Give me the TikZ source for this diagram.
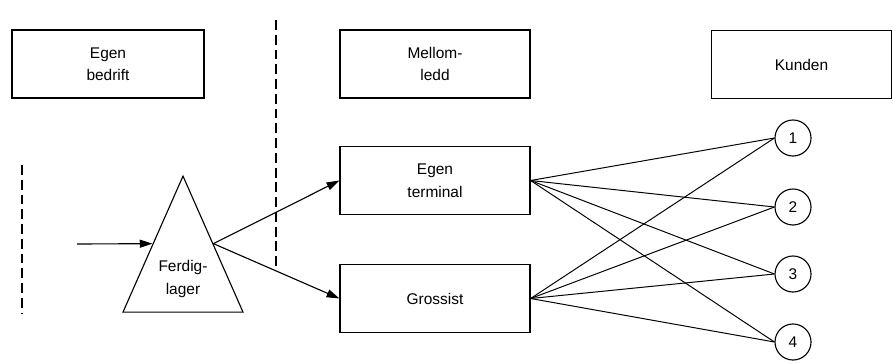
\documentclass[tikz,border=0pt]{standalone}
\usepackage{fontspec}
\setmainfont{Liberation Sans}
\usetikzlibrary{positioning,arrows.meta,shapes.geometric,calc}

\begin{document}
\begin{tikzpicture}[
  x=0.025cm, y=-0.025cm,
  box/.style={draw, rectangle, line width=0.8pt, minimum width=4.75cm, minimum height=1.7cm, align=center, font=\fontsize{11}{16}\selectfont},
  kunde/.style={draw, circle, line width=0.8pt, minimum size=0.9cm, inner sep=0pt, font=\fontsize{11}{12}\selectfont},
  arr/.style={-{Triangle[length=3.2mm,width=2mm]}, line width=0.8pt},
  lnk/.style={line width=0.7pt},
  skille/.style={line width=0.8pt, dash pattern=on 7pt off 3.5pt},
]
  \useasboundingbox (0,0) rectangle (893,363);

  % overskrifter
  \node[box, minimum width=4.8cm]  (bedrift) at (108,64)   {Egen\\bedrift};
  \node[box]                       (mellom)  at (435,64)   {Mellom-\\ledd};
  \node[box, minimum width=4.5cm]  (kunden)  at (801.5,64.5) {Kunden};

  % mellomledd
  \node[box] (terminal) at (435,180.5) {Egen\\terminal};
  \node[box] (grossist) at (435,298.5) {Grossist};

  % ferdiglager
  \node[draw, isosceles triangle, isosceles triangle stretches, shape border rotate=90,
        line width=0.8pt, minimum width=3cm, minimum height=3.4cm, inner sep=0pt] (lager) at (183,273) {};
  \node[align=center, font=\fontsize{11}{16}\selectfont] (lagertekst) at (183,279) {Ferdig-\\lager};

  % kunder
  \foreach \i/\y in {1/138, 2/207, 3/274, 4/342}
    \node[kunde] (k\i) at (793,\y) {\i};

  % skillelinjer
  \draw[skille] (22,165) -- (22,313);
  \draw[skille] (276,20) -- (276,270);

  \coordinate (inn) at (77,244);
  \draw[arr] (inn) -- (lager.left side);
  \draw[arr] (lager.right side) -- (terminal.west);
  \draw[arr] (lager.right side) -- (grossist.west);

  \foreach \i in {1,...,4} {
    \draw[lnk] (terminal.east) -- (k\i.west);
    \draw[lnk] (grossist.east) -- (k\i.west);
  }
\end{tikzpicture}
\end{document}
